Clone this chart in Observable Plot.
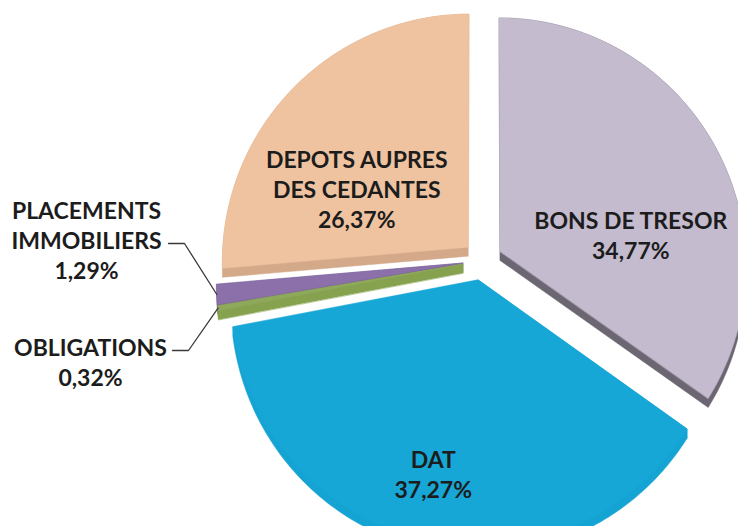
<!DOCTYPE html>
<html>
<head>
<meta charset="utf-8">
<script src="https://cdn.jsdelivr.net/npm/d3@7"></script>
<script src="https://cdn.jsdelivr.net/npm/@observablehq/plot@0.6"></script>
<style>
  html, body { margin: 0; padding: 0; background: #ffffff; }
  #chart svg { display: block; }
</style>
</head>
<body>
<div id="chart"></div>
<script>
// ---- data ----
const names = ["BONS DE TRESOR", "DAT", "OBLIGATIONS", "PLACEMENTS IMMOBILIERS", "DEPOTS AUPRES DES CEDANTES"];
const displayNames = ["BONS DE TRESOR", "DAT", "OBLIGATIONS", "PLACEMENTS\nIMMOBILIERS", "DEPOTS AUPRES\nDES CEDANTES"];
const shares = [34.77, 37.27, 0.32, 1.29, 26.37];
const valueLabels = ["34,77%", "37,27%", "0,32%", "1,29%", "26,37%"];

// ---- styles / layout ----
const topColors  = ["#c4bbcf", "#16a7d7", "#8fa95c", "#8b70a9", "#efc3a0"];
const sideColors = ["#6b6671", "#14a3d3", "#86a24f", "#715a92", "#d3a98a"];
const W = 738, H = 526;
// 3D view: centre, radii, perspective strength, explode distance, extrusion depth (px)
const cx = 482, cy = 260, RX = 246, RY = 248, persp = 0.058, explode = 0.08, depth = 9;
// inside label placement: [angle shift (deg), radius fraction]; outside labels: anchor + elbow
const insideLabel = {"BONS DE TRESOR": [20, 0.54], "DAT": [1, 0.76], "DEPOTS AUPRES DES CEDANTES": [-15, 0.52]};
const outsideLabel = {
  "PLACEMENTS IMMOBILIERS": {tx: 86, ty: 239, lx: 168, ly: 243, ex: 184},
  "OBLIGATIONS": {tx: 90, ty: 361, lx: 172, ly: 350, ex: 188}
};

const pie = d3.pie().sort(null).value(d => d.share).startAngle(0).endAngle(2 * Math.PI);
const rows = names.map((n, i) => ({name: n, display: displayNames[i], share: shares[i], value: valueLabels[i], top: topColors[i], side: sideColors[i]}));
const arcs = pie(rows);

// pie-plane (u right, v toward viewer) -> screen with mild perspective
const project = (u, v) => { const g = 1 / (1 - persp * v); return [cx + RX * u * g, cy + RY * v * g]; };
const dir = (a) => [Math.sin(a), -Math.cos(a)];

const slices = [], texts = [], leaders = [];
arcs.forEach((a, i) => {
  const d = a.data;
  const mid = (a.startAngle + a.endAngle) / 2;
  const [mu, mv] = dir(mid);
  const au = explode * mu, av = explode * mv;
  const n = Math.max(4, Math.ceil((a.endAngle - a.startAngle) / (Math.PI / 180)));
  const poly = [project(au, av)];
  for (let k = 0; k <= n; k++) {
    const t = a.startAngle + (a.endAngle - a.startAngle) * k / n;
    const [du, dv] = dir(t);
    poly.push(project(au + du, av + dv));
  }
  const hull = d3.polygonHull(poly.concat(poly.map(([x, y]) => [x, y + depth])));
  slices.push({i, mv, poly, hull, d});

  if (insideLabel[d.name]) {
    const [shift, f] = insideLabel[d.name];
    const [lu, lv] = dir(mid + shift * Math.PI / 180);
    const [tx, ty] = project(au + f * lu, av + f * lv);
    texts.push({x: tx, y: ty, text: d.display + "\n" + d.value});
  } else {
    const o = outsideLabel[d.name];
    texts.push({x: o.tx, y: o.ty, text: d.display + "\n" + d.value});
    const [px, py] = project(au + mu, av + mv);
    leaders.push({id: i, x: o.lx, y: o.ly}, {id: i, x: o.ex, y: o.ly}, {id: i, x: px, y: py});
  }
});

// back-to-front drawing order for the extruded sides
const tops = [], sides = [];
slices.slice().sort((p, q) => p.mv - q.mv).forEach(s => {
  s.hull.forEach(([x, y]) => sides.push({id: s.i, x, y, c: s.d.side}));
});
slices.forEach(s => s.poly.forEach(([x, y]) => tops.push({id: s.i, x, y, c: s.d.top})));

const plot = Plot.plot({
  width: W, height: H, margin: 0,
  x: {domain: [0, W], range: [0, W], axis: null},
  y: {domain: [0, H], range: [0, H], axis: null},
  color: {type: "identity"},
  style: {background: "#ffffff"},
  marks: [
    Plot.line(sides, {x: "x", y: "y", z: "id", fill: "c", stroke: "c", strokeWidth: 0.5, curve: "linear-closed"}),
    Plot.line(tops, {x: "x", y: "y", z: "id", fill: "c", stroke: "c", strokeWidth: 0.5, curve: "linear-closed"}),
    Plot.line(leaders, {x: "x", y: "y", z: "id", stroke: "#3a3a3a", strokeWidth: 1.3}),
    Plot.text(texts, {x: "x", y: "y", text: "text", textAnchor: "middle", lineAnchor: "middle",
      lineHeight: 1.3, fontSize: 23, fontWeight: "bold", fontFamily: "Lato, 'Open Sans', sans-serif", fill: "#1c1c1c"})
  ]
});
document.getElementById("chart").appendChild(plot);
</script>
</body>
</html>
